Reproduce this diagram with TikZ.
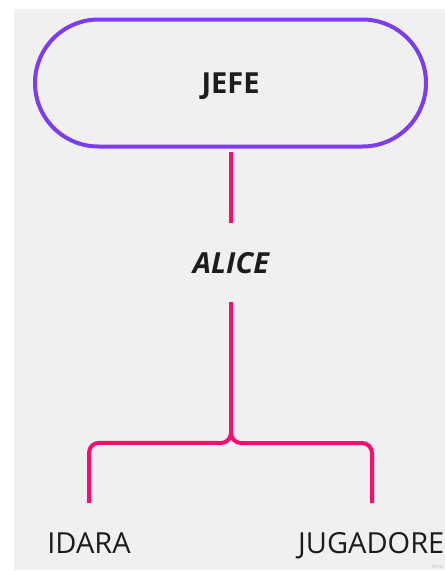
\documentclass[tikz,border=0pt]{standalone}
\usepackage{fontspec}
\setmainfont{Open Sans}
\usetikzlibrary{shapes.misc}
\definecolor{bgpanel}{HTML}{F0F0F1}
\definecolor{pillviolet}{HTML}{7D3CF0}
\definecolor{linkpink}{HTML}{FF0A6E}
\definecolor{inkdark}{HTML}{1C1C1C}
\tikzset{
  bossbox/.style={rounded rectangle, draw=pillviolet, line width=4pt,
    minimum width=391pt, minimum height=127pt, inner sep=0pt, text depth=0pt,
    font=\fontsize{29}{34}\selectfont\bfseries, text=inkdark},
  rolelabel/.style={inner sep=0pt, minimum height=79pt, text depth=0pt,
    font=\fontsize{29}{34}\selectfont\bfseries\itshape, text=inkdark},
  leaflabel/.style={inner sep=0pt, minimum height=80pt, text depth=0pt,
    font=\fontsize{29}{34}\selectfont, text=inkdark},
  link/.style={draw=linkpink, line width=4pt}
}
\begin{document}
\begin{tikzpicture}[x=1pt,y=-1pt]
  \useasboundingbox (0,0) rectangle (445,571);
  \fill[bgpanel] (14,9) rectangle (445,570);

  \node[bossbox] (jefe) at (230.5,83) {JEFE};
  \node[rolelabel] (alice) at (231,262.5) {ALICE};
  \node[leaflabel] (idara) at (89,543) {IDARA};
  \node[leaflabel, anchor=west] (jug) at (298,543) {JUGADORE};
  \coordinate (jugtop) at (372,503);
  \coordinate (fork) at (231,433);

  \path[link] (231,152) -- (alice.north);
  \path[link] (alice.south) -- (fork);
  \path[link] (idara.north) -- ++(0,-50) to[out=90,in=180] ++(10,-10)
     -- (221,443) to[out=0,in=-90] (fork);
  \path[link] (jugtop) -- ++(0,-50) to[out=90,in=0] ++(-10,-10)
     -- (241,443) to[out=180,in=-90] (fork);

  \node[font=\fontsize{5}{6}\selectfont, text=black!25, anchor=south east, inner sep=0pt] (wm) at (443,569) {miro};
\end{tikzpicture}
\end{document}
